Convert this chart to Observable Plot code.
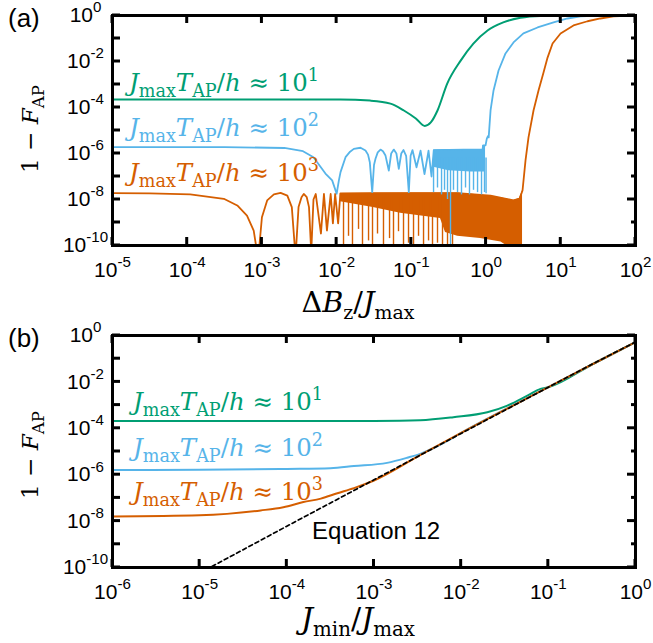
<!DOCTYPE html>
<html>
<head>
<meta charset="utf-8">
<script src="https://cdn.jsdelivr.net/npm/d3@7"></script>
<script src="https://cdn.jsdelivr.net/npm/@observablehq/plot@0.6"></script>
<style>
html,body{margin:0;padding:0;background:#fff;}
#wrap{position:relative;width:653px;height:643px;overflow:hidden;background:#fff;}
#wrap > div, #wrap > svg{position:absolute;left:0;}
</style>
</head>
<body>
<div id="wrap">
  <div id="pa" style="top:0"></div>
  <div id="pb" style="top:320px"></div>
  <svg id="ov" width="653" height="643" style="top:0;pointer-events:none"></svg>
</div>
<script>
// ---------- DATA (log10 exponents) ----------
const xTickExpA = [-5, -4, -3, -2, -1, 0, 1, 2];
const xTickExpB = [-6, -5, -4, -3, -2, -1, 0];
const yTickExp = [0, -1, -2, -3, -4, -5, -6, -7, -8, -9, -10];
const yLabelExp = [0, -2, -4, -6, -8, -10];
const seriesExp = ["1", "2", "3"];

// panel (a): [log10 ΔBz/Jmax, log10(1-F)]
const greenA = [[-5,-3.65],[-2.5,-3.65],[-1.95,-3.65],[-1.55,-3.70],[-1.28,-3.83],[-1.10,-4.13],[-0.94,-4.48],[-0.82,-4.80],[-0.74,-4.65],[-0.65,-4.13],[-0.52,-2.96],[-0.34,-1.96],[-0.17,-1.22],[0.02,-0.65],[0.23,-0.30],[0.46,-0.10],[0.73,-0.02],[1.2,0],[1.6,0]];
const blueA = [[-5,-5.72],[-3.5,-5.72],[-2.7,-5.76],[-2.45,-5.9],[-2.31,-6.16],[-2.15,-6.87],[-2.06,-7.17],[-2.0,-7.75],[-1.97,-7.17],[-1.948,-6.81],[-1.881,-6.16],[-1.82,-5.92],[-1.77,-5.80],[-1.68,-5.75],[-1.614,-5.87],[-1.58,-6.05],[-1.556,-6.38],[-1.524,-7.68],[-1.50,-6.5],[-1.48,-6.23],[-1.45,-5.95],[-1.413,-5.83],[-1.38,-5.9],[-1.346,-6.09],[-1.302,-6.74],[-1.27,-6.0],[-1.235,-5.83],[-1.20,-6.0],[-1.168,-6.67],[-1.135,-6.0],[-1.105,-5.85],[-1.07,-6.1],[-1.034,-7.68],[-1.01,-6.1],[-0.985,-5.85],[-0.931,-6.6],[-0.877,-5.88],[-0.824,-6.9],[-0.77,-5.88],[-0.73,-7.0],[-0.70,-5.85],[-0.3,-5.83],[-0.047,-5.83],[-0.04,-5.65],[-0.007,-5.65],[0.01,-5.35],[0.025,-5.25],[0.035,-5.3],[0.06,-4.13],[0.10,-3.26],[0.167,-2.39],[0.26,-1.65],[0.367,-1.17],[0.50,-0.78],[0.689,-0.52],[0.903,-0.30],[1.09,-0.13],[1.264,-0.04],[1.53,0],[1.7,0]];
const blueBandA = [[-0.70,-5.85,-6.6],[-0.5,-5.83,-6.75],[-0.2,-5.83,-6.8],[-0.047,-5.83,-6.8],[-0.04,-5.65,-6.8],[-0.007,-5.65,-6.8]];
const blueSpikesA = [[-0.703,-6.2,-7.7],[-0.65,-6.2,-7.5],[-0.596,-6.2,-7.8],[-0.556,-6.2,-7.6],[-0.516,-6.2,-8.0],[-0.476,-6.2,-10.2],[-0.436,-6.2,-7.6],[-0.382,-6.2,-7.7],[-0.329,-6.2,-7.8],[-0.275,-6.2,-7.5],[-0.222,-6.2,-7.8],[-0.168,-6.2,-7.6],[-0.114,-6.2,-7.7],[-0.061,-6.2,-7.8],[-0.021,-6.2,-7.7],[0.0,-6.2,-7.75]];
const orangeA = [[-5,-7.72],[-4.5,-7.73],[-3.96,-7.78],[-3.51,-7.97],[-3.33,-8.26],[-3.20,-8.70],[-3.11,-9.35],[-3.05,-10.6],[-3.00,-8.77],[-2.93,-8.04],[-2.84,-7.78],[-2.75,-7.71],[-2.66,-7.83],[-2.60,-8.33],[-2.55,-10.5],[-2.51,-8.33],[-2.47,-7.9],[-2.44,-7.76],[-2.40,-7.9],[-2.37,-8.33],[-2.34,-10.3],[-2.31,-8.0],[-2.28,-7.76],[-2.21,-9.48],[-2.17,-7.76],[-2.13,-9.35],[-2.08,-7.76],[-2.05,-9.04],[-2.02,-7.76],[-1.98,-9.04],[-1.95,-7.74],[-1.0,-7.72],[-0.38,-7.72],[0.06,-7.83],[0.367,-8.04],[0.448,-7.96],[0.488,-7.61],[0.528,-6.30],[0.568,-5.30],[0.635,-4.13],[0.702,-3.26],[0.769,-2.48],[0.823,-1.83],[0.89,-1.22],[0.997,-0.78],[1.17,-0.43],[1.358,-0.25],[1.53,-0.13],[1.706,-0.04],[1.87,-0.01],[2,0]];
const orangeBandA = [[-1.95,-7.74,-8.1],[-1.51,-7.72,-8.35],[-1.145,-7.72,-8.6],[-0.61,-7.72,-8.83],[-0.543,-7.72,-9.43],[-0.38,-7.72,-9.6],[-0.074,-7.80,-9.7],[0.2,-7.92,-9.85],[0.367,-8.04,-10.2],[0.448,-7.96,-10.2],[0.488,-7.61,-10.2]];
const orangeSpikesA = [[-1.908,-7.9,-10.2],[-1.841,-7.9,-9.6],[-1.788,-7.9,-10.2],[-1.707,-7.9,-9.3],[-1.654,-7.9,-10.2],[-1.573,-7.9,-9.8],[-1.52,-7.9,-10.2],[-1.453,-7.9,-9.5],[-1.373,-7.9,-10.2],[-1.292,-7.9,-9.7],[-1.239,-7.9,-10.2],[-1.172,-7.9,-9.4],[-1.105,-7.9,-10.2],[-1.038,-7.9,-9.9],[-0.971,-7.9,-10.2],[-0.904,-7.9,-9.6],[-0.837,-7.9,-10.2],[-0.77,-7.9,-9.8],[-0.717,-7.9,-10.2],[-0.65,-7.9,-9.9],[-0.583,-7.9,-10.2],[-0.516,-7.9,-10.2],[-0.449,-7.9,-10.2]];

// panel (b): [log10 Jmin/Jmax, log10(1-F)]
const greenB = [[-6,-3.69],[-4,-3.69],[-3,-3.68],[-2.47,-3.65],[-2.09,-3.52],[-1.70,-3.31],[-1.47,-3.02],[-1.24,-2.59],[-1.09,-2.30],[-1.0,-2.23],[-0.5,-1.25],[0,-0.28]];
const blueB = [[-6,-5.80],[-5,-5.79],[-4,-5.75],[-3.5,-5.72],[-3.23,-5.63],[-2.85,-5.49],[-2.62,-5.27],[-2.47,-5.10],[-2.32,-4.86],[-2.2,-4.63],[-2,-4.2],[-1,-2.23],[-0.5,-1.25],[0,-0.28]];
const orangeB = [[-6,-7.80],[-5,-7.75],[-4.30,-7.54],[-4.04,-7.40],[-3.81,-7.18],[-3.61,-7.03],[-3.42,-6.80],[-3.23,-6.58],[-3.0,-6.25],[-2.5,-5.22],[-2,-4.2],[-1,-2.23],[-0.5,-1.25],[0,-0.28]];
const eq12B = [[-4.93,-10.1],[-4,-8.22],[-3,-6.22],[-2,-4.22],[-1,-2.23],[-0.5,-1.24],[0,-0.28]];
const eqLabel = [{lx: -3.71, ly: -8.75, text: "Equation 12"}];

// ---------- helpers ----------
const GREEN = "#009E73", BLUE = "#56B4E9", ORANGE = "#D55E00";
const SANS = "'Liberation Sans', Arial, Helvetica, sans-serif";
const MATH = "'DejaVu Serif', serif";
const pow = e => 10 ** e;
const toXY = a => a.map(([lx, ly]) => ({x: pow(lx), y: pow(ly)}));
const toBand = a => a.map(([lx, p, q]) => ({x: pow(lx), y1: pow(p), y2: pow(q)}));
const W = 653, ML = 112, MR = 18, MT = 15;

function supLabels(svg, size) {
  svg.querySelectorAll("text").forEach(t => {
    const s0 = t.textContent;
    if (!s0.includes("^")) return;
    const [b, e] = s0.split("^");
    const s = d3.select(t).text(null);
    s.append("tspan").text(b);
    s.append("tspan").text(e).attr("font-size", size * 0.72).attr("dy", -0.47 * size);
  });
}

function panel({xDom, xTicks, height, marginBottom, marks}) {
  const svg = Plot.plot({
    width: W, height,
    marginLeft: ML, marginRight: MR, marginTop: MT, marginBottom,
    x: {type: "log", domain: xDom, axis: null},
    y: {type: "log", domain: [1e-10, 1], axis: null},
    style: {fontFamily: SANS, background: "transparent", overflow: "visible"},
    marks: [
      ...marks,
      Plot.frame({stroke: "black", strokeWidth: 3}),
      Plot.text(xTicks, {x: pow, text: e => `10^${e}`, frameAnchor: "bottom", dy: 31, lineAnchor: "bottom", textAnchor: "middle", fontSize: 21, fill: "black"}),
      Plot.text(yLabelExp, {y: pow, text: e => `10^${e}`, frameAnchor: "left", dx: -27, lineAnchor: "middle", textAnchor: "middle", fontSize: 21, fill: "black"})
    ]
  });
  supLabels(svg, 21);
  return svg;
}

const line = (d, c, w, extra = {}) => Plot.line(toXY(d), {x: "x", y: "y", stroke: c, strokeWidth: w, clip: true, ...extra});

const svgA = panel({
  xDom: [1e-5, 1e2], xTicks: xTickExpA, height: 320, marginBottom: 75,
  marks: [
    Plot.areaY(toBand(orangeBandA), {x: "x", y1: "y1", y2: "y2", fill: ORANGE, clip: true}),
    Plot.ruleX(toBand(orangeSpikesA), {x: "x", y1: "y1", y2: "y2", stroke: ORANGE, strokeWidth: 1.4, clip: true}),
    line(orangeA, ORANGE, 1.8),
    Plot.areaY(toBand(blueBandA), {x: "x", y1: "y1", y2: "y2", fill: BLUE, clip: true}),
    Plot.ruleX(toBand(blueSpikesA), {x: "x", y1: "y1", y2: "y2", stroke: BLUE, strokeWidth: 1.4, clip: true}),
    line(blueA, BLUE, 1.8),
    line(greenA, GREEN, 2, {curve: "monotone-x"})
  ]
});
document.getElementById("pa").appendChild(svgA);

const svgB = panel({
  xDom: [1e-6, 1], xTicks: xTickExpB, height: 323, marginBottom: 76,
  marks: [
    line(greenB, GREEN, 2, {curve: "monotone-x"}),
    line(blueB, BLUE, 2, {curve: "monotone-x"}),
    line(orangeB, ORANGE, 2, {curve: "monotone-x"}),
    line(eq12B, "black", 1.7, {strokeDasharray: "4,3"}),
    Plot.text(eqLabel, {x: d => pow(d.lx), y: d => pow(d.ly), text: "text", textAnchor: "start", lineAnchor: "bottom", fontSize: 24, fill: "black", fontFamily: SANS})
  ]
});
document.getElementById("pb").appendChild(svgB);

// ---------- overlay: inward ticks (positions from Plot's own scales) and math text ----------
const ov = d3.select("#ov");
function scaleFn(svgP, name) {
  const s = svgP.scale(name);
  if (s && typeof s.apply === "function") return v => s.apply(v);
  return d3.scaleLog().domain(s.domain).range(s.range);
}
function drawTicks(svgP, top, height, marginBottom, xTicks) {
  const sx = scaleFn(svgP, "x"), sy = scaleFn(svgP, "y");
  const x0 = ML, x1 = W - MR, y0 = top + MT, y1 = top + height - marginBottom;
  const g = ov.append("g").attr("stroke", "black").attr("stroke-width", 3);
  const seg = (a, b, c, d) => g.append("line").attr("x1", a).attr("y1", b).attr("x2", c).attr("y2", d);
  for (const e of xTicks) {
    const px = sx(pow(e));
    seg(px, y1, px, y1 - 8);
    seg(px, y0, px, y0 + 8);
  }
  for (const e of yTickExp) {
    const py = top + sy(pow(e));
    seg(x0, py, x0 + 8, py);
    seg(x1, py, x1 - (e % 2 !== 0 ? 4 : 8), py);
  }
}
drawTicks(svgA, 0, 320, 75, xTickExpA);
drawTicks(svgB, 320, 323, 76, xTickExpB);

function addMath(parts, o) {
  const t = ov.append("text").attr("x", o.x).attr("y", o.y).attr("fill", o.fill || "black")
    .attr("font-family", MATH).attr("font-size", o.size).attr("text-anchor", o.anchor || "start");
  if (o.rotate) t.attr("transform", `rotate(-90 ${o.x} ${o.y})`);
  let off = 0;
  const subK = o.subScale || 0.72;
  for (const [s, k] of parts) {
    const target = k === "sub" ? 0.24 * o.size : k === "sup" ? -0.42 * o.size : 0;
    const ts = t.append("tspan").text(s);
    if (target - off) ts.attr("dy", target - off);
    off = target;
    if (k === "sub" || k === "sup") ts.attr("font-size", subK * o.size);
    if (k === "i") ts.attr("font-style", "italic");
  }
  return t;
}
function fitMath(parts, o, w) {
  const t = addMath(parts, o);
  const cur = t.node().getComputedTextLength();
  t.remove();
  return addMath(parts, {...o, size: o.size * w / cur});
}
const annot = e => [["J", "i"], ["max", "sub"], ["T", "i"], ["AP", "sub"], ["/", ""], ["h", "i"], [" \u2248 10", ""], [e, "sup"]];
const colors = [GREEN, BLUE, ORANGE];
const baseA = [91, 136, 181], baseB = [410, 456, 500];
seriesExp.forEach((e, i) => {
  fitMath(annot(e), {x: 129, y: baseA[i], size: 20, fill: colors[i]}, 190);
  fitMath(annot(e), {x: 133, y: baseB[i], size: 20, fill: colors[i]}, 190);
});
const yLab = [["1 \u2212 ", ""], ["F", "i"], ["AP", "sub"]];
fitMath(yLab, {x: 38, y: 129, size: 23, anchor: "middle", rotate: true}, 88);
fitMath(yLab, {x: 38, y: 455, size: 23, anchor: "middle", rotate: true}, 88);
fitMath([["\u0394", ""], ["B", "i"], ["z", "sub"], ["/", ""], ["J", "i"], ["max", "sub"]], {x: 358, y: 312, size: 24, anchor: "middle", subScale: 0.66}, 113);
fitMath([["J", "i"], ["min", "sub"], ["/", ""], ["J", "i"], ["max", "sub"]], {x: 358, y: 629, size: 24, anchor: "middle", subScale: 0.66}, 114);
ov.append("text").attr("x", 8).attr("y", 27).attr("font-family", SANS).attr("font-size", 26).text("(a)");
ov.append("text").attr("x", 8).attr("y", 347).attr("font-family", SANS).attr("font-size", 26).text("(b)");
</script>
</body>
</html>
